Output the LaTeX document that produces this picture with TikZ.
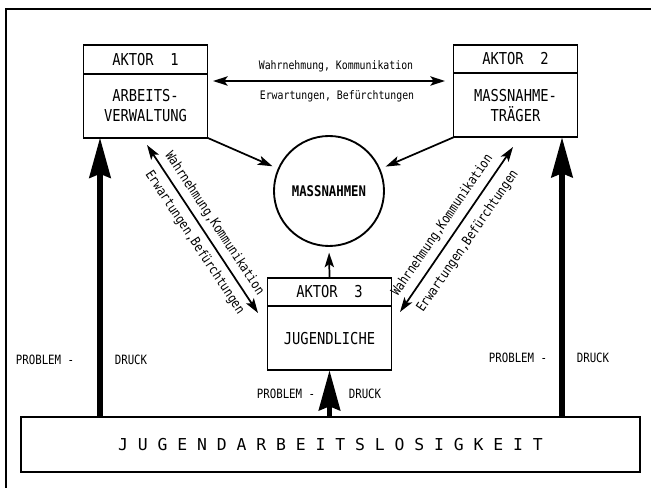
\documentclass[tikz,border=0pt]{standalone}
\usepackage{fontspec}
\newfontfamily\tw[FakeStretch=0.84]{DejaVu Sans Mono}
\newfontfamily\sperr{DejaVu Sans Mono}
\usetikzlibrary{arrows.meta,positioning}

\begin{document}
\begin{tikzpicture}[x=0.75pt,y=0.75pt,yscale=-1,xscale=1,
  every node/.style={outer sep=0pt},
  kopf/.style={draw,line width=1.4pt,minimum width=93pt,minimum height=21.5pt,inner sep=0pt,align=center,font=\tw\fontsize{12.3}{15}\selectfont},
  feld/.style={kopf,minimum height=48pt},
  klein/.style={inner sep=0pt,font=\tw\fontsize{8.8}{10}\selectfont},
  schraeg/.style={inner sep=0pt,font=\tw\fontsize{10}{11}\selectfont},
  druckschrift/.style={inner sep=0pt,font=\tw\fontsize{9.6}{11}\selectfont},
  pfeil/.style={line width=1.3pt,-{Stealth[length=11pt,width=7pt,inset=2.5pt]}},
  doppel/.style={line width=1.3pt,{Stealth[length=11pt,width=7pt,inset=2.5pt]}-{Stealth[length=11pt,width=7pt,inset=2.5pt]}},
  druck/.style={line width=3.8pt,-{Stealth[length=30pt,width=16pt,inset=3pt]}}]
\useasboundingbox (0,0) rectangle (651,488);

%Frame
\draw [line width=1.3pt] (6,488) -- (6,9) -- (651,9) ;

%Actors
\node [kopf] (a1h) at (145.5,59.5) {AKTOR\ \ 1};
\node [feld,below=0pt of a1h] (a1) {ARBEITS-\\VERWALTUNG};
\node [kopf] (a2h) at (515.5,59) {AKTOR\ \ 2};
\node [feld,below=0pt of a2h] (a2) {MASSNAHME-\\TRÄGER};
\node [kopf] (a3h) at (329.5,292) {AKTOR\ \ 3};
\node [feld,below=0pt of a3h] (a3) {JUGENDLICHE};

%Circle
\node [draw,circle,line width=1.4pt,minimum size=82.5pt,inner sep=0pt,font=\tw\bfseries\fontsize{11}{13}\selectfont] (m) at (329,191) {MASSNAHMEN};

%Bottom box
\node [draw,line width=1.4pt,minimum width=464pt,minimum height=41pt,inner sep=0pt,font=\sperr\fontsize{12.3}{15}\selectfont] (jal) at (330.5,444.5) {J U G E N D A R B E I T S L O S I G K E I T};

%Arrows to the circle
\draw [pfeil,shorten >=5pt] (a1.south east) -- (m) ;
\draw [pfeil,shorten >=5pt] (a2.south west) -- (m) ;
\draw [pfeil,shorten >=5pt] (a3h.north) -- (m.south) ;

%Top double arrow
\coordinate (o1) at (213,81) ;
\coordinate (o2) at (445,81) ;
\draw [doppel] (o1) -- (o2) ;
\node [klein] (wk1) at (336,66) {Wahrnehmung, Kommunikation};
\node [klein] (eb1) at (337,96) {Erwartungen, Befürchtungen};

%Left diagonal
\coordinate (l1) at (147,145) ;
\coordinate (l2) at (258,313) ;
\draw [doppel] (l1) -- (l2) ;
\node [schraeg,rotate=-56.5] (wk2) at (214.4,223.5) {Wahrnehmung,Kommunikation};
\node [schraeg,rotate=-56.5] (eb2) at (194.7,242.6) {Erwartungen,Befürchtungen};

%Right diagonal
\coordinate (r1) at (400,312) ;
\coordinate (r2) at (513,147) ;
\draw [doppel] (r1) -- (r2) ;
\node [schraeg,rotate=55.6] (wk3) at (442.4,225.4) {Wahrnehmung,Kommunikation};
\node [schraeg,rotate=55.6] (eb3) at (467.8,241.3) {Erwartungen,Befürchtungen};

%Pressure arrows
\coordinate (pl) at (100,0) ;
\coordinate (pr) at (562,0) ;
\draw [druck] (jal.north -| pl) -- (a1.south -| pl) ;
\draw [druck] (jal.north -| pr) -- (a2.south -| pr) ;
\draw [druck] (jal.north -| a3.south) -- (a3.south) ;

% Text Node
\node [druckschrift] (p1) at (45,360) {PROBLEM -};
\node [druckschrift] (d1) at (131,360) {DRUCK};
\node [druckschrift] (p2) at (518,358) {PROBLEM -};
\node [druckschrift] (d2) at (593,358) {DRUCK};
\node [druckschrift] (p3) at (286,394) {PROBLEM -};
\node [druckschrift] (d3) at (365,394) {DRUCK};

\end{tikzpicture}
\end{document}
